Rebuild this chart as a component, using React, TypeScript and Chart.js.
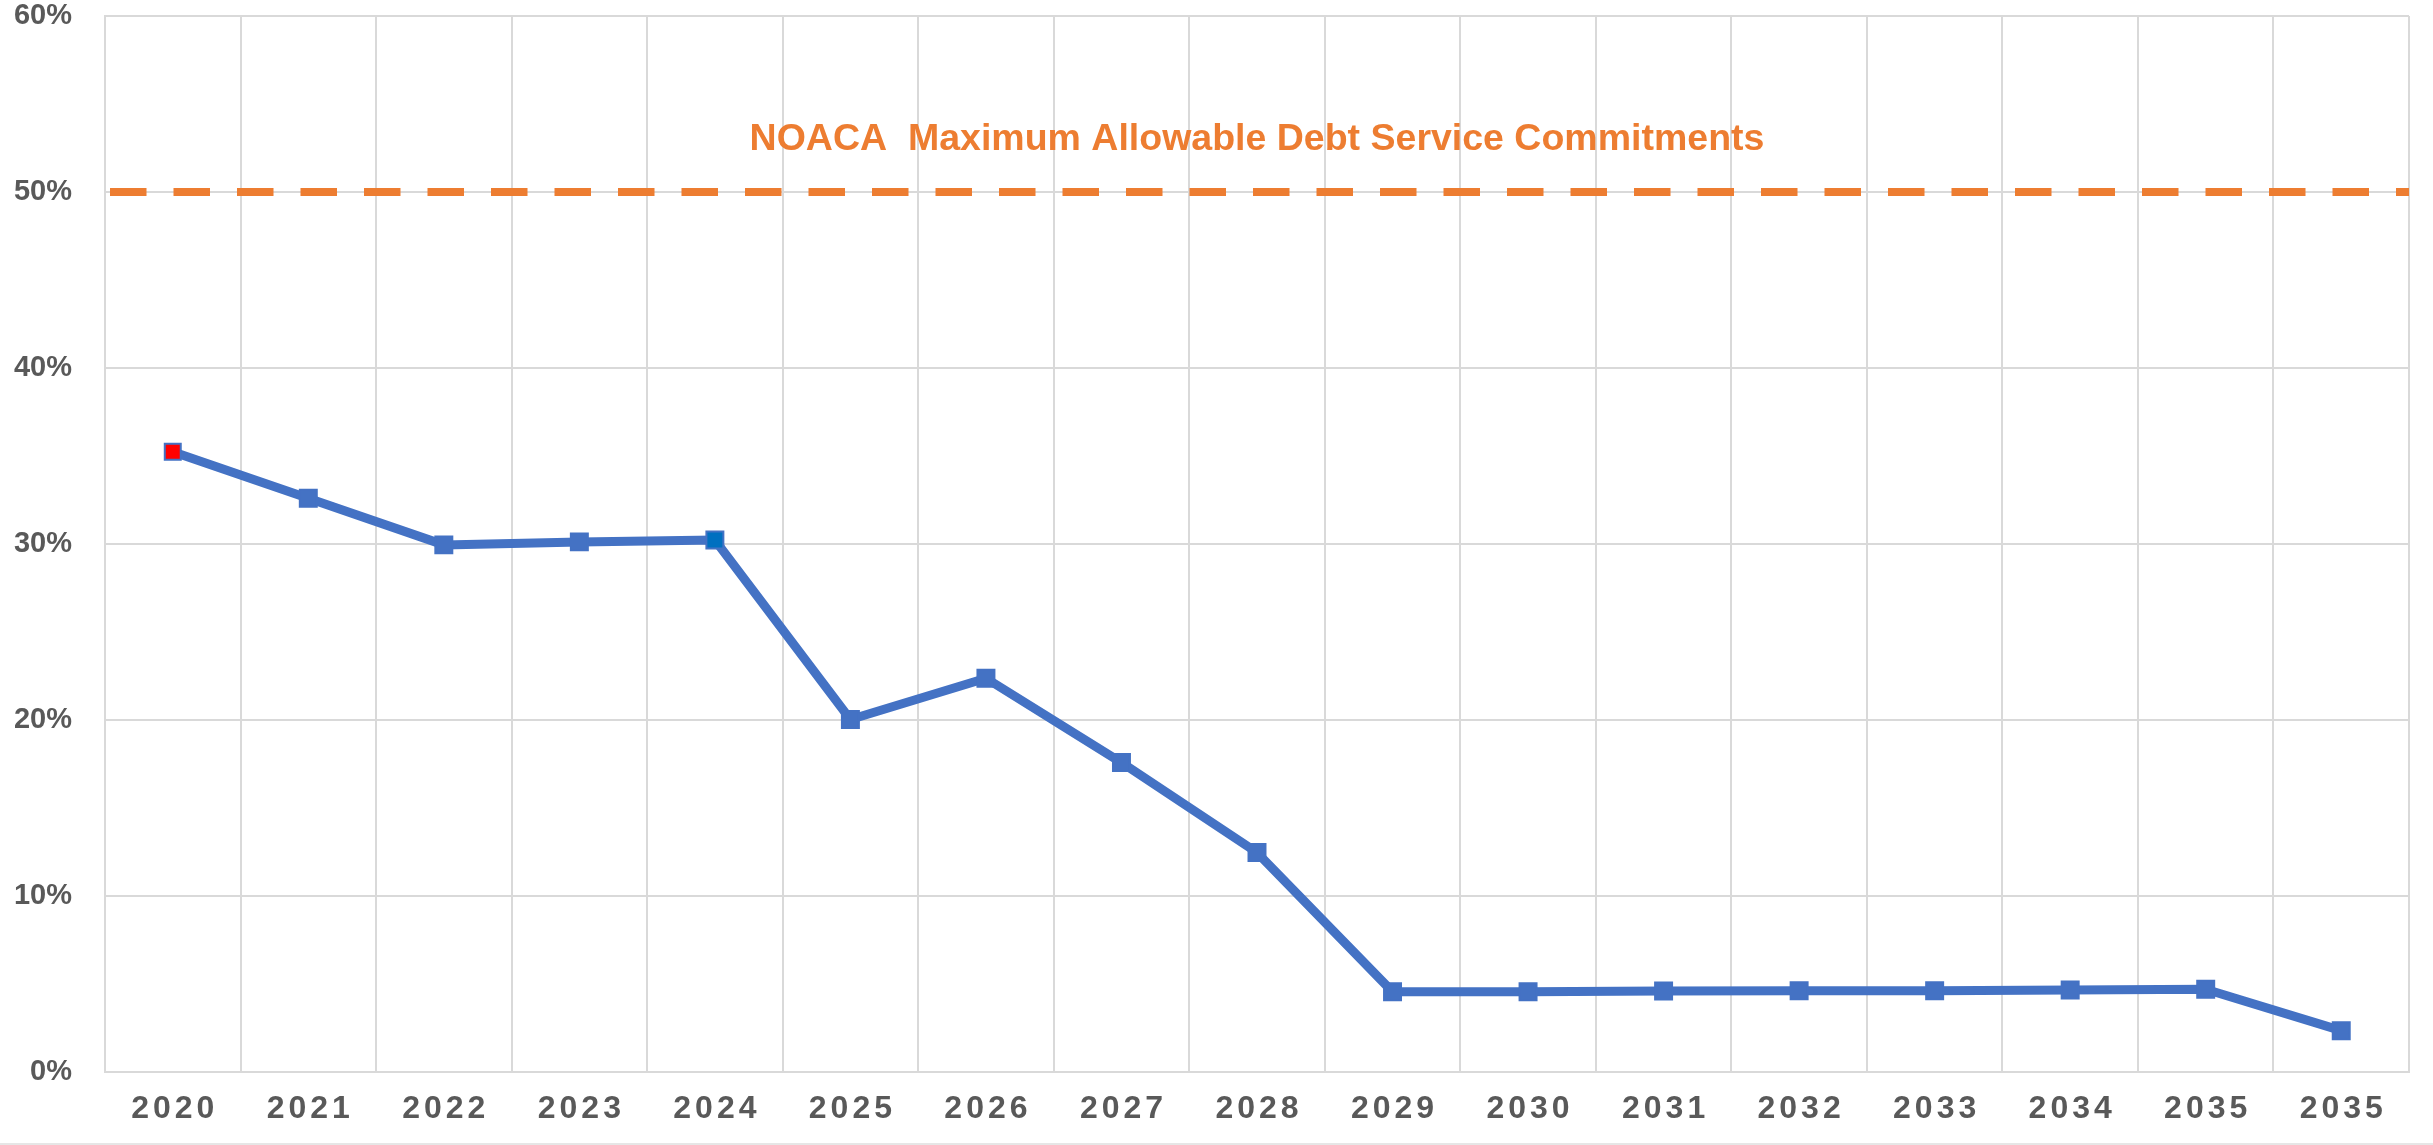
import React, { useEffect, useRef } from "react";
import { Chart, registerables } from "chart.js";

Chart.register(...registerables);

// ---- Data ----
const years = [
  "2020", "2021", "2022", "2023", "2024", "2025", "2026", "2027", "2028",
  "2029", "2030", "2031", "2032", "2033", "2034", "2035", "2035",
];
const debtServiceShare = [
  35.24, 32.6, 29.95, 30.12, 30.23, 20.03, 22.37, 17.58, 12.47,
  4.56, 4.56, 4.6, 4.62, 4.62, 4.66, 4.7, 2.35,
];
const maxAllowableShare = 50;
const maxAllowableLabel = "NOACA  Maximum Allowable Debt Service Commitments";
const annotationLevel = 53;
const yMin = 0;
const yMax = 60;
const yStep = 10;

const FONT = '"Liberation Sans", Arial, sans-serif';
const GRID = "#D9D9D9";
const LABEL = "#595959";
const BLUE = "#4472C4";
const ORANGE = "#ED7D31";

const overlayPlugin = {
  id: "overlayText",
  afterDraw(chart: any) {
    const ctx = chart.ctx as CanvasRenderingContext2D;
    const xs = chart.scales.x;
    const ys = chart.scales.y;
    const area = chart.chartArea;
    ctx.save();
    // annotation text
    ctx.font = `bold 37.5px ${FONT}`;
    ctx.fillStyle = ORANGE;
    ctx.textAlign = "center";
    ctx.textBaseline = "middle";
    ctx.fillText(maxAllowableLabel, (area.left + area.right) / 2, ys.getPixelForValue(annotationLevel));
    // x labels with letter spacing
    const spacing = 4;
    (ctx as any).letterSpacing = `${spacing}px`;
    ctx.font = `bold 32px ${FONT}`;
    ctx.fillStyle = LABEL;
    years.forEach((lbl, i) => {
      const x = xs.getPixelForTick(i);
      ctx.fillText(lbl, x + spacing / 2, xs.top + 37.5);
    });
    ctx.restore();
  },
};

export default function App() {
  const ref = useRef<HTMLCanvasElement>(null);

  useEffect(() => {
    if (!ref.current) return;
    const chart = new Chart(ref.current, {
      type: "line",
      data: {
        labels: years,
        datasets: [
          {
            label: "Debt service share",
            data: debtServiceShare,
            xAxisID: "x",
            borderColor: BLUE,
            borderWidth: 9,
            tension: 0,
            borderJoinStyle: "round",
            pointStyle: "rect",
            pointRadius: (c: any) => (c.dataIndex === 0 ? 11.3 : 12),
            pointBackgroundColor: (c: any) =>
              c.dataIndex === 0 ? "#FF0000" : c.dataIndex === 4 ? "#0070C0" : BLUE,
            pointBorderColor: BLUE,
            pointBorderWidth: 2,
            fill: false,
            clip: false,
          } as any,
          {
            label: "Maximum allowable",
            data: [
              { x: 0, y: maxAllowableShare },
              { x: 1, y: maxAllowableShare },
            ],
            xAxisID: "x2",
            borderColor: ORANGE,
            borderWidth: 8,
            borderDash: [36.5, 27],
            borderDashOffset: -5,
            pointRadius: 0,
            fill: false,
          } as any,
        ],
      },
      options: {
        animation: false,
        responsive: false,
        events: [],
        layout: { padding: { top: 16, right: 24, left: 0, bottom: 0 } },
        plugins: {
          legend: { display: false },
          tooltip: { enabled: false },
          title: { display: false },
        },
        scales: {
          x: {
            type: "category",
            offset: true,
            grid: { offset: true, color: GRID, lineWidth: 2, drawTicks: false },
            border: { display: true, color: GRID, width: 2 },
            ticks: { display: false },
            afterFit: (s: any) => {
              s.height = 71;
            },
          },
          x2: {
            type: "linear",
            display: false,
            min: 0,
            max: 1,
            offset: false,
          },
          y: {
            min: yMin,
            max: yMax,
            grid: {
              color: GRID,
              lineWidth: 2,
              drawTicks: true,
              tickLength: 33,
              tickColor: "rgba(0,0,0,0)",
            },
            border: { display: true, color: GRID, width: 2 },
            ticks: {
              stepSize: yStep,
              padding: 0,
              color: LABEL,
              font: { family: FONT, size: 29, weight: "bold", lineHeight: 1 },
              callback: (v: any) => `${v}%`,
            },
            afterFit: (s: any) => {
              s.width = 105;
            },
          },
        },
      } as any,
      plugins: [overlayPlugin],
    });
    return () => chart.destroy();
  }, []);

  return (
    <div
      style={{
        position: "fixed",
        left: 0,
        top: 0,
        width: 2433,
        height: 1145,
        background: "#fff",
        overflow: "hidden",
      }}
    >
      <canvas ref={ref} width={2433} height={1143} style={{ display: "block" }} />
      <div style={{ height: 2, background: "#E6E6E6" }} />
    </div>
  );
}
